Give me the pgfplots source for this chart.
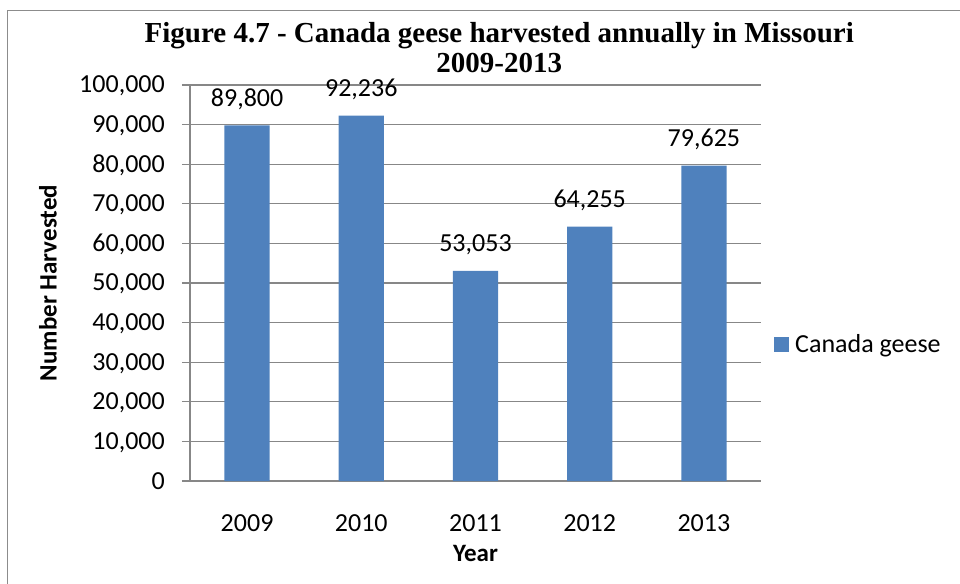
\documentclass[border=0pt]{standalone}
\usepackage{pgfplots}
\pgfplotsset{compat=1.18}
\usepackage{fontspec}
\setmainfont{Carlito}
\newfontfamily\timesfont{Liberation Serif}
\definecolor{barblue}{HTML}{4F81BD}
\definecolor{gridgray}{HTML}{878787}
\definecolor{framegray}{HTML}{8C8C8C}
\begin{document}
\begin{tikzpicture}
\useasboundingbox (-190pt,-102pt) rectangle (770pt,481pt);
\begin{axis}[
  at={(0pt,0pt)}, anchor=south west,
  scale only axis, width=571pt, height=396pt,
  xmin=-0.5, xmax=4.5, ymin=0, ymax=100000,
  xtick=data, xticklabels={2009,2010,2011,2012,2013},
  ytick={0,10000,...,100000},
  scaled y ticks=false,
  /pgf/number format/assume math mode=true,
  /pgf/number format/fixed, /pgf/number format/precision=0, /pgf/number format/1000 sep={,},
  ticklabel style={font=\fontsize{26}{31}\selectfont},
  yticklabel style={anchor=base east, inner sep=0pt, xshift=-17pt, yshift=-8pt},
  xticklabel style={anchor=north, inner sep=0pt, yshift=-25.7pt},
  axis lines=left, axis line style={-, gridgray, line width=1.1pt},
  tick align=outside, major tick length=8pt,
  ytick style={gridgray, line width=1.1pt},
  xtick style={draw=none},
  ymajorgrids, grid style={gridgray, line width=1.1pt},
  ybar, bar width=45.3pt,
  xlabel={Year}, ylabel={Number Harvested},
  every axis x label/.style={at={(axis description cs:0.5,-0.1818)}, anchor=center, inner sep=0pt, font=\fontsize{25}{30}\selectfont\bfseries},
  every axis y label/.style={at={(axis description cs:-0.2487,0.5)}, rotate=90, anchor=center, inner sep=0pt, font=\fontsize{25}{30}\selectfont\bfseries},
  nodes near coords,
  every node near coord/.append style={font=\fontsize{26}{31}\selectfont, anchor=base, inner sep=0pt, yshift=19pt, text=black},
  legend style={at={(axis description cs:1.0228,0.3447)}, anchor=west, draw=none, fill=none, inner sep=0pt, font=\fontsize{26}{31}\selectfont,
    nodes={inner sep=0pt, anchor=west}, /tikz/column sep=6pt},
  legend image code/.code={\fill[barblue] (0pt,-7.5pt) rectangle (15pt,7.5pt);},
]
\addplot[fill=barblue, draw=none] coordinates {(0,89800) (1,92236) (2,53053) (3,64255) (4,79625)};
\addlegendentry{Canada geese}
\end{axis}
\draw[framegray, line width=1.2pt] (-182.5pt,470.5pt) -- (-182.5pt,-120pt);
\draw[framegray, line width=1.2pt] (-182.5pt,470.5pt) -- (790pt,470.5pt);
\node[anchor=base, align=center, inner sep=0pt, font=\fontsize{29}{30}\selectfont\timesfont\bfseries] at (309.3pt,438pt) {Figure 4.7 - Canada geese harvested annually in Missouri};
\node[anchor=base, inner sep=0pt, font=\fontsize{29}{30}\selectfont\timesfont\bfseries] at (309.3pt,408pt) {2009-2013};
\end{tikzpicture}
\end{document}
